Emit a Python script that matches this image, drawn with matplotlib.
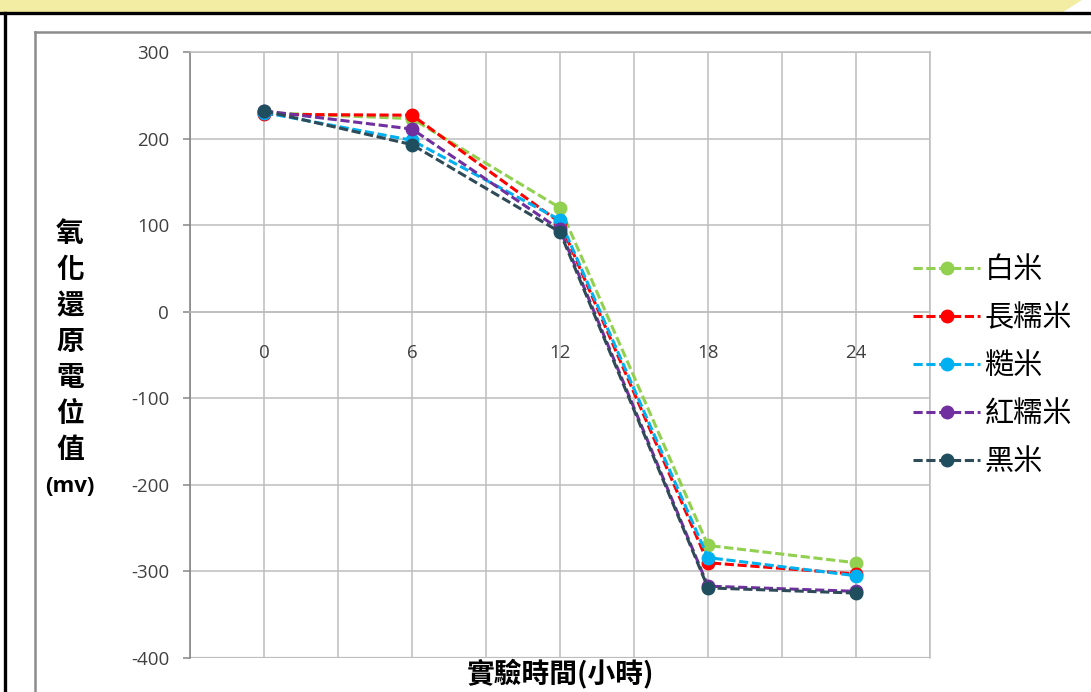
import matplotlib
matplotlib.use("Agg")
import matplotlib.pyplot as plt
from matplotlib.patches import Polygon
from matplotlib.lines import Line2D

plt.rcParams['font.family'] = ['Noto Sans CJK TC', 'DejaVu Sans']

# Sampling times (hours) and redox potential readings (mV)
hours = [0, 6, 12, 18, 24]
series_names = ['白米', '長糯米', '糙米', '紅糯米', '黑米']
white_rice = [230, 223, 120, -270, -290]
long_glutinous = [228, 227, 103, -290, -303]
brown_rice = [230, 198, 106, -284, -305]
red_glutinous = [232, 211, 95, -317, -323]
black_rice = [232, 193, 92, -319, -325]
series_values = [white_rice, long_glutinous, brown_rice, red_glutinous, black_rice]

y_ticks = [300, 200, 100, 0, -100, -200, -300, -400]
x_ticks = [0, 6, 12, 18, 24]
y_title = ['氧', '化', '還', '原', '電', '位', '值', '(mv)']
x_title = '實驗時間(小時)'

line_colors = ['#92D050', '#FF0000', '#00B0F0', '#7030A0', '#2F4B58']
marker_colors = ['#92D050', '#FF0000', '#00B0F0', '#7030A0', '#1F4E5F']

W, H = 1091, 692
fig = plt.figure(figsize=(W / 100, H / 100), dpi=100)
fig.patch.set_facecolor('white')

def px(x, y):
    return (x / W, 1 - y / H)

# Banner strip and page frame
fig.add_artist(Polygon([px(0, 0), px(1082, 0), px(1063, 12), px(0, 12)],
                       closed=True, transform=fig.transFigure,
                       facecolor='#F2EDA2', edgecolor='none'))
fig.add_artist(Line2D([0, 1], [px(0, 13)[1]] * 2, transform=fig.transFigure,
                      color='black', lw=2.4))
fig.add_artist(Line2D([px(5, 0)[0]] * 2, [px(0, 13)[1], 0], transform=fig.transFigure,
                      color='black', lw=2.4))
# Chart area border
fig.add_artist(Line2D([px(35, 0)[0], 1], [px(0, 32)[1]] * 2, transform=fig.transFigure,
                      color='#8C8C8C', lw=1.8))
fig.add_artist(Line2D([px(35, 0)[0]] * 2, [px(0, 32)[1], 0], transform=fig.transFigure,
                      color='#8C8C8C', lw=1.8))

left, right, top, bottom = 190, 930, 52, 658
ax = fig.add_axes([left / W, 1 - bottom / H, (right - left) / W, (bottom - top) / H])
ax.set_xlim(-3, 27)
ax.set_ylim(-400, 300)

# Category axis crosses at 0 mV (set before tick styling: it rebuilds the ticks)
ax.spines['bottom'].set_position(('data', 0))
ax.spines['bottom'].set_color('#BDBDBD')
ax.spines['bottom'].set_linewidth(1.1)
for s in ['top', 'right']:
    ax.spines[s].set_color('#BDBDBD')
    ax.spines[s].set_linewidth(1.1)
ax.spines['left'].set_color('#868686')
ax.spines['left'].set_linewidth(1.2)

for name, vals, lc, mc in zip(series_names, series_values, line_colors, marker_colors):
    ax.plot(hours, vals, linestyle=(0, (3.0, 1.2)), color=lc, lw=2.2,
            marker='o', markersize=9, markerfacecolor=mc, markeredgecolor=mc,
            label=name, zorder=3)

# Grid: vertical every 3 h, horizontal every 100 mV
tick_font = ['Open Sans', 'DejaVu Sans']
ax.set_xticks(range(-3, 28, 3), minor=True)
ax.set_xticks(x_ticks)
ax.set_xticklabels([str(t) for t in x_ticks])
ax.set_yticks(y_ticks)
ax.set_yticklabels([str(t) for t in y_ticks])
for lab in ax.get_xticklabels() + ax.get_yticklabels():
    lab.set_fontfamily(tick_font)
    lab.set_fontsize(13.5)
    lab.set_color('#404040')
ax.grid(True, which='both', color='#BDBDBD', lw=1.1)
ax.set_axisbelow(True)

ax.tick_params(axis='x', which='both', length=0, pad=23)
ax.tick_params(axis='y', length=5, width=1.1, color='#868686', pad=10)

# Lower border of the plot region (x spine moved to y=0)
ax.axhline(-400, color='#BDBDBD', lw=1.6, zorder=1)

# Vertical stacked y-axis title
y0 = 234
for i, ch in enumerate(y_title):
    if ch == '(mv)':
        fig.text(*px(70, y0 + i * 36), ch, ha='center', va='center',
                 fontsize=16, fontweight='bold', family=['Open Sans', 'DejaVu Sans'])
    else:
        fig.text(*px(70, y0 + i * 36), ch, ha='center', va='center',
                 fontsize=20, fontweight='bold')

fig.text(*px(560, 673), x_title, ha='center', va='center', fontsize=20, fontweight='bold')

leg = fig.legend(loc='upper left', bbox_to_anchor=px(913, 255), frameon=False,
                 fontsize=21, handlelength=2.3, handletextpad=0.15,
                 labelspacing=0.62, borderaxespad=0, borderpad=0)

fig.savefig('out.png', dpi=100)
